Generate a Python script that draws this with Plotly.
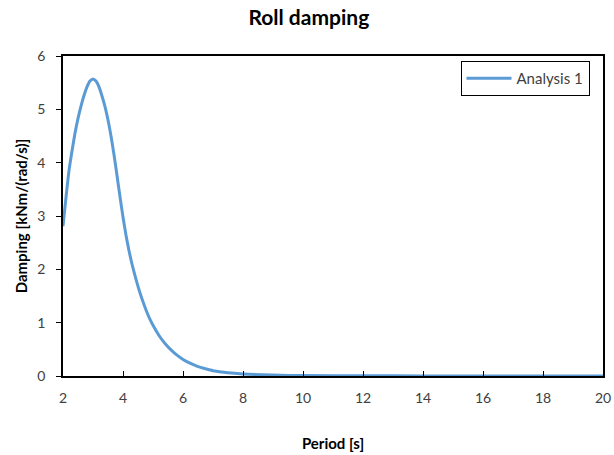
import plotly.graph_objects as go

period = [2.0, 2.1, 2.2, 2.3, 2.4, 2.5, 2.6, 2.7, 2.8, 2.9, 3.0, 3.1, 3.2, 3.3, 3.4,
          3.5, 3.6, 3.7, 3.8, 3.9, 4.0, 4.1, 4.2, 4.3, 4.4, 4.5, 4.6, 4.7, 4.8, 4.9,
          5.0, 5.2, 5.4, 5.6, 5.8, 6.0, 6.25, 6.5, 6.75, 7.0, 7.5, 8.0, 9.0, 10.0,
          12.0, 14.0, 16.0, 18.0, 20.0]
damping = [2.81, 3.35, 3.85, 4.22, 4.55, 4.83, 5.06, 5.26, 5.42, 5.53, 5.57, 5.53, 5.42, 5.25, 5.05,
           4.80, 4.50, 4.15, 3.76, 3.36, 2.98, 2.64, 2.35, 2.10, 1.88, 1.68, 1.50, 1.34, 1.19, 1.06,
           0.95, 0.76, 0.61, 0.49, 0.39, 0.31, 0.235, 0.175, 0.135, 0.10, 0.06, 0.038, 0.017, 0.008,
           0.003, 0.002, 0.001, 0.001, 0.001]

x_ticks = [2, 4, 6, 8, 10, 12, 14, 16, 18, 20]
y_ticks = [0, 1, 2, 3, 4, 5, 6]

font_family = "Lato, 'Open Sans', sans-serif"

fig = go.Figure()
fig.add_trace(go.Scatter(
    x=period, y=damping, mode="lines", name="Analysis 1",
    line=dict(color="#5B9BD5", width=3, shape="spline", smoothing=0.6),
))

fig.update_layout(
    width=614, height=455,
    margin=dict(l=63, r=11, t=56, b=79),
    paper_bgcolor="white", plot_bgcolor="white",
    font=dict(family=font_family, size=14, color="#404040"),
    title=dict(text="<b>Roll damping</b>", x=0.503, xanchor="center", y=0.962, yanchor="middle",
               font=dict(family=font_family, size=21, color="#000000")),
    showlegend=True,
    legend=dict(x=0.975, y=0.984, xanchor="right", yanchor="top",
                bordercolor="#000000", borderwidth=1, bgcolor="white", itemwidth=45,
                font=dict(family=font_family, size=15, color="#404040")),
    xaxis=dict(
        range=[2, 20], tickvals=x_ticks, ticks="inside", ticklen=5, tickcolor="#000000",
        showline=True, linecolor="#000000", linewidth=1.5, mirror=True, showgrid=False,
        zeroline=False, automargin=False, ticklabelstandoff=8,
        title=dict(text="<b>Period [s]</b>", standoff=34,
                   font=dict(family=font_family, size=15, color="#000000")),
    ),
    yaxis=dict(
        range=[0, 6], tickvals=y_ticks, ticks="outside", ticklen=5, tickcolor="#000000",
        showline=True, linecolor="#000000", linewidth=1.5, mirror=True, showgrid=False,
        zeroline=False, automargin=False, ticklabelstandoff=8,
        title=dict(text="<b>Damping [kNm/(rad/s)]</b>", standoff=6,
                   font=dict(family=font_family, size=15, color="#000000")),
    ),
)

fig.write_html("out.html")
